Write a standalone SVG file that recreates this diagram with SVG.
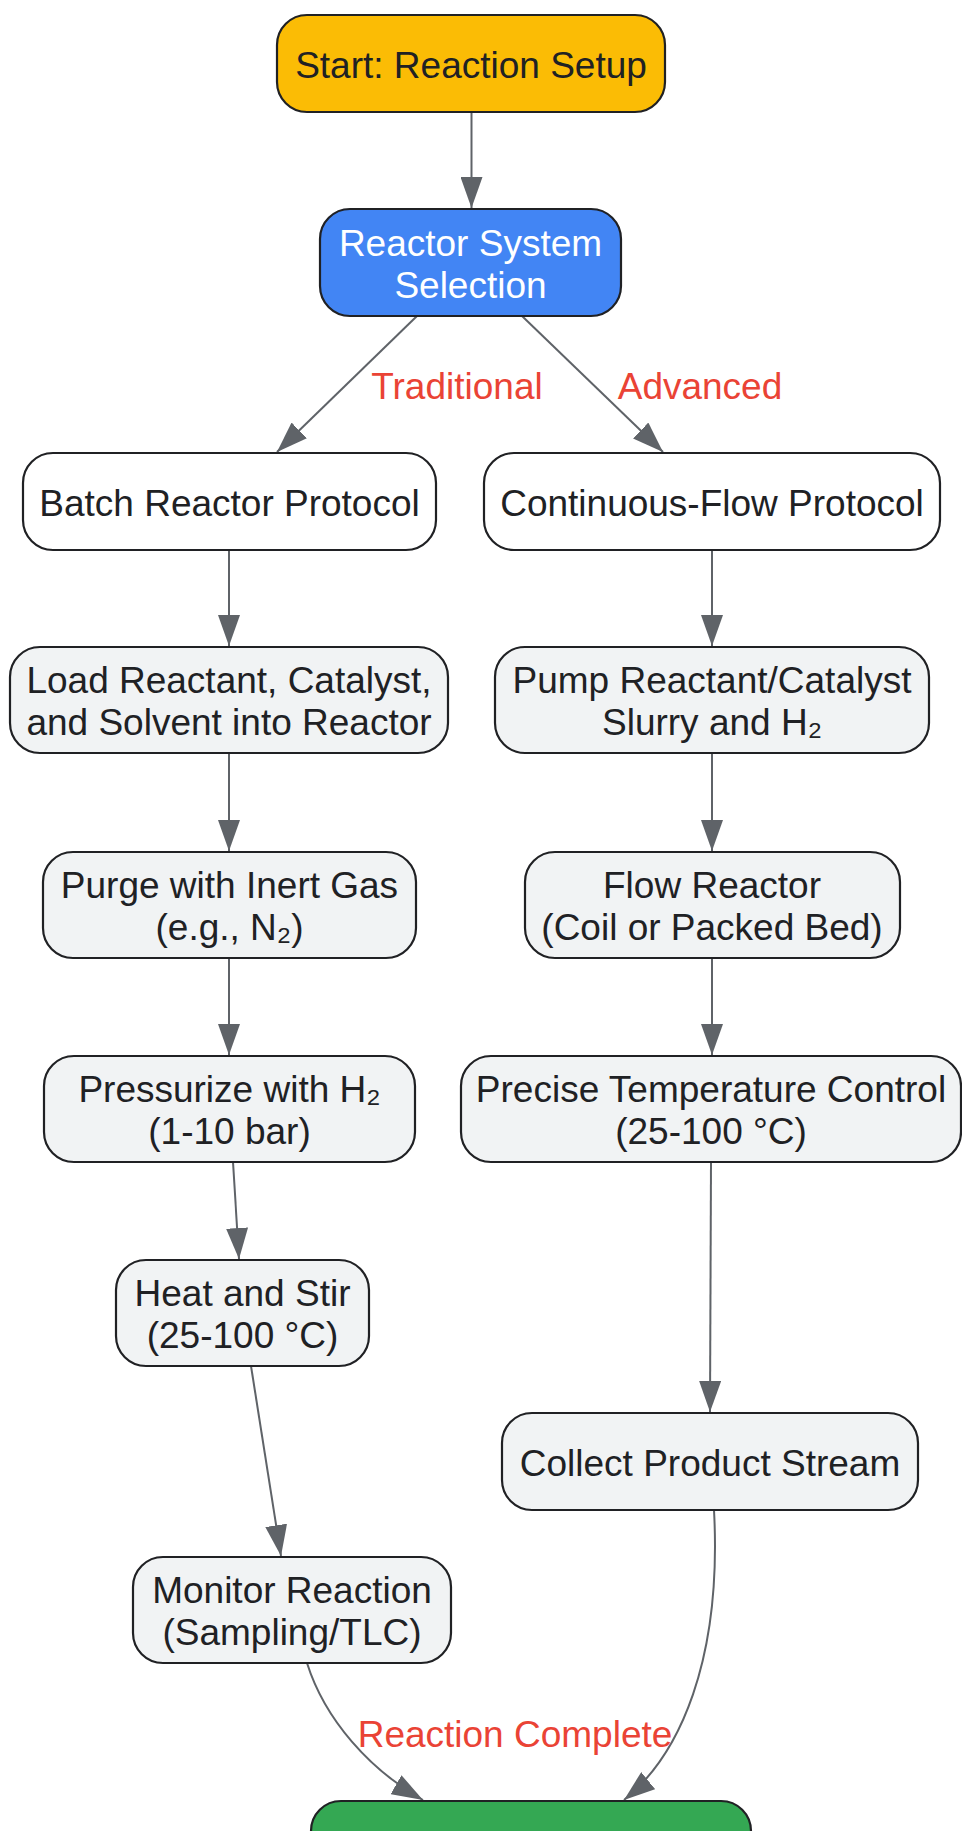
<svg xmlns="http://www.w3.org/2000/svg" width="962" height="1831" viewBox="0 0 962 1831">
<defs>
<marker id="arr" markerUnits="userSpaceOnUse" markerWidth="32" markerHeight="22" refX="31" refY="11" orient="auto">
<path d="M0,0 L31,11 L0,22 z" fill="#5F6368"/>
</marker>
<style>
.n rect{stroke:#202124;stroke-width:2.2}
.p rect{fill:#F1F3F4}
.w rect{fill:#FFFFFF}
text{font-family:"Liberation Sans",Arial,sans-serif;font-size:37px;text-anchor:middle;fill:#202124}
.e path{fill:none;stroke:#5F6368;stroke-width:2;marker-end:url(#arr)}
.lbl{fill:#EA4335}
</style>
</defs>
<rect width="962" height="1831" fill="#FFFFFF"/>
<g id="connectors" class="e">
<path d="M471.5,112 L471.5,208"/>
<path d="M417,316 L277,452"/>
<path d="M522,316 L663,452"/>
<path d="M229,550 L229,646"/>
<path d="M712,550 L712,646"/>
<path d="M229,753 L229,851"/>
<path d="M712,753 L712,851"/>
<path d="M229,958 L229,1055"/>
<path d="M712,958 L712,1055"/>
<path d="M233,1162 L239,1259"/>
<path d="M711,1162 L710,1412"/>
<path d="M251,1366 L281,1556"/>
<path d="M307,1663 C325,1720 370,1770 423,1800"/>
<path d="M714,1510 C722,1660 680,1755 624,1800"/>
<text class="lbl" x="457" y="399">Traditional</text>
<text class="lbl" x="700" y="399">Advanced</text>
<text class="lbl" x="515" y="1747">Reaction Complete</text>
</g>
<g id="start" class="n"><rect x="277" y="15" width="388" height="97" rx="30" fill="#FBBC05"/><text x="471" y="77.5">Start: Reaction Setup</text></g>
<g id="selection" class="n"><rect x="320" y="209" width="301" height="107" rx="30" fill="#4285F4"/><text x="470.5" y="255.5" style="fill:#FFFFFF">Reactor System</text><text x="470.5" y="297.5" style="fill:#FFFFFF">Selection</text></g>
<g id="batch" class="n w"><rect x="23" y="453" width="413" height="97" rx="30"/><text x="229.5" y="515.5">Batch Reactor Protocol</text></g>
<g id="flow" class="n w"><rect x="484" y="453" width="456" height="97" rx="30"/><text x="712" y="515.5">Continuous-Flow Protocol</text></g>
<g id="load" class="n p"><rect x="10" y="647" width="438" height="106" rx="30"/><text x="229" y="693">Load Reactant, Catalyst,</text><text x="229" y="735">and Solvent into Reactor</text></g>
<g id="pump" class="n p"><rect x="495" y="647" width="434" height="106" rx="30"/><text x="712" y="693">Pump Reactant/Catalyst</text><text x="712" y="735">Slurry and H₂</text></g>
<g id="purge" class="n p"><rect x="43" y="852" width="373" height="106" rx="30"/><text x="229.5" y="898">Purge with Inert Gas</text><text x="229.5" y="940">(e.g., N₂)</text></g>
<g id="flowreactor" class="n p"><rect x="525" y="852" width="375" height="106" rx="30"/><text x="712" y="898">Flow Reactor</text><text x="712" y="940">(Coil or Packed Bed)</text></g>
<g id="pressurize" class="n p"><rect x="44" y="1056" width="371" height="106" rx="30"/><text x="229.5" y="1102">Pressurize with H₂</text><text x="229.5" y="1144">(1-10 bar)</text></g>
<g id="temperature" class="n p"><rect x="461" y="1056" width="500" height="106" rx="30"/><text x="711" y="1102">Precise Temperature Control</text><text x="711" y="1144">(25-100 °C)</text></g>
<g id="heat" class="n p"><rect x="116" y="1260" width="253" height="106" rx="30"/><text x="242.5" y="1306">Heat and Stir</text><text x="242.5" y="1348">(25-100 °C)</text></g>
<g id="collect" class="n p"><rect x="502" y="1413" width="416" height="97" rx="30"/><text x="710" y="1475.5">Collect Product Stream</text></g>
<g id="monitor" class="n p"><rect x="133" y="1557" width="318" height="106" rx="30"/><text x="292" y="1603">Monitor Reaction</text><text x="292" y="1645">(Sampling/TLC)</text></g>
<g id="end" class="n"><rect x="311" y="1801" width="440" height="97" rx="30" fill="#34A853"/></g>
</svg>
